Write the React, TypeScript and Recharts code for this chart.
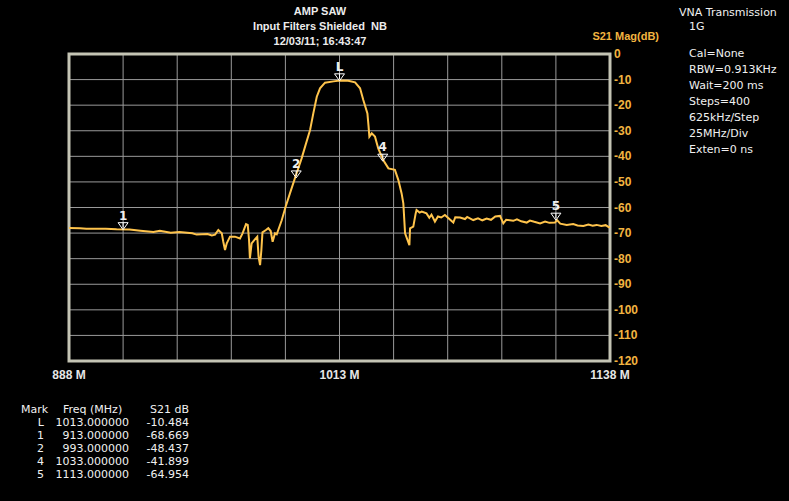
import React from 'react';
import { ComposedChart, Line, Scatter, XAxis, YAxis, CartesianGrid, ReferenceArea } from 'recharts';

// trace, MHz / dB
const freqMHz = [
  888, 893, 896, 905, 910, 916, 921, 927, 930, 935, 939, 945, 947, 952, 954, 955.5,
  957, 958.6, 959.3, 960.1, 960.9, 962.4, 964.7, 967, 968.2, 969.8, 970.6, 971.2, 971.6,
  972.4, 973.9, 975, 975.6, 976.3, 976.9, 977.4, 979, 980.1, 981.2, 982.1, 983.2, 984,
  984.7, 986.3, 988.1, 990.1, 992.9, 995.5, 997.1, 999.4, 1000.9, 1002.5, 1004, 1006.3,
  1010.2, 1013.2, 1017, 1020.2, 1022.5, 1024, 1025.9, 1026.4, 1026.8, 1027.9, 1029.4,
  1030.9, 1033.2, 1035.6, 1038.6, 1040.2, 1041.7, 1042.5, 1043.3, 1045.3, 1045.6, 1047.1,
  1048.2, 1048.6, 1050, 1051, 1053.2, 1054.5, 1055.5, 1057.1, 1058.5, 1060, 1061.7, 1063.5,
  1065.6, 1066.5, 1068.7, 1071, 1072, 1074.8, 1077, 1079, 1081, 1083, 1085, 1087.2, 1088.7,
  1090, 1093.3, 1095, 1097, 1099.5, 1101, 1103, 1105.7, 1108, 1110, 1112.6, 1113.5, 1115,
  1118, 1121, 1123, 1125.7, 1128, 1130, 1131.8, 1134, 1136, 1137.4, 1138,
];
const s21dB = [
  -68.0, -68.1, -68.3, -68.3, -68.5, -68.6, -69.1, -69.6, -69.1, -69.9, -69.6, -70.1, -70.6, -70.4, -70.9, -70.6,
  -68.8, -70.1, -73.4, -76.6, -74.0, -71.4, -71.4, -72.1, -70.1, -66.5, -66.8, -72.7, -79.9,
  -74.0, -72.5, -71.4, -79.2, -82.5, -76.6, -69.7, -68.8, -68.1, -69.2, -73.4, -70.1, -70.5,
  -68.8, -65.0, -59.7, -54.5, -47.3, -40.8, -36.2, -29.7, -23.2, -16.7, -13.4, -11.2,
  -10.7, -10.4, -10.5, -11.1, -13.4, -18.0, -23.2, -28.0, -32.3, -31.0, -32.3,
  -36.9, -41.4, -44.7, -45.3, -49.3, -54.5, -58.4, -70.1, -74.7, -68.2, -67.5,
  -62.3, -61.0, -62.0, -61.6, -62.3, -64.0, -62.8, -65.5, -63.5, -63.9, -62.9, -64.3,
  -65.9, -63.8, -63.9, -64.5, -63.7, -64.9, -64.2, -65.0, -64.3, -64.8, -63.5, -63.3, -66.2,
  -64.8, -65.2, -64.6, -65.4, -65.9, -65.1, -65.6, -66.2, -65.5, -66.0, -65.9, -64.9, -66.3,
  -66.8, -66.5, -67.0, -67.2, -66.7, -67.1, -66.8, -67.2, -66.9, -67.7, -67.6,
];

const markerNames = ['L', '1', '2', '4', '5'];
const markerFreq = [1013, 913, 993, 1033, 1113];
const markerDb = [-10.484, -68.669, -48.437, -41.899, -64.954];

const xTicks = [888, 913, 938, 963, 988, 1013, 1038, 1063, 1088, 1113, 1138];
const xLabelTicks = [888, 1013, 1138];
const yTicks = [0, -10, -20, -30, -40, -50, -60, -70, -80, -90, -100, -110, -120];

const titleLines = ['AMP SAW', 'Input Filters Shielded  NB', '12/03/11; 16:43:47'];
const infoLines = ['Cal=None', 'RBW=0.913KHz', 'Wait=200 ms', 'Steps=400', '625kHz/Step', '25MHz/Div', 'Exten=0 ns'];

const traceData = freqMHz.map((f, i) => ({ f, v: s21dB[i] }));
const markerData = markerFreq.map((f, i) => ({ f, v: markerDb[i], name: markerNames[i] }));

const ORANGE = '#f2b440';
const TRACE = '#ffc44c';
const ARIAL = '"Liberation Sans", Arial, sans-serif';
const DEJAVU = '"DejaVu Sans", Verdana, sans-serif';

const XTick = (props: any) => {
  const { x, y, payload } = props;
  if (!xLabelTicks.includes(payload.value)) return <g />;
  return (
    <text x={x} y={y + 18} textAnchor="middle" fill="#e6e6e6" fontSize={12} fontWeight="bold" fontFamily={ARIAL}>
      {payload.value} M
    </text>
  );
};

const YTick = (props: any) => {
  const { x, y, payload } = props;
  return (
    <text x={x + 4} y={y + 4} textAnchor="start" fill={ORANGE} fontSize={12} fontWeight="bold" fontFamily={ARIAL}>
      {payload.value}
    </text>
  );
};

const MarkerShape = (props: any) => {
  const { cx, cy, payload } = props;
  return (
    <g>
      <polygon points={`${cx - 5},${cy - 7} ${cx + 5},${cy - 7} ${cx},${cy}`} fill="none" stroke="#ffffff" strokeWidth={1} />
      <line x1={cx} y1={cy - 7} x2={cx} y2={cy - 2} stroke="#ffffff" strokeWidth={1} />
      <text x={cx} y={cy - 10} textAnchor="middle" fill="#f0f0f0" fontSize={12} fontWeight="bold" fontFamily={DEJAVU}>
        {payload.name}
      </text>
    </g>
  );
};

export default function App() {
  return (
    <div style={{ position: 'absolute', left: 0, top: 0, width: 789, height: 501, background: '#000' }}>
      <ComposedChart width={789} height={501} data={traceData} margin={{ top: 54, left: 69, right: 129, bottom: 110 }}>
        <CartesianGrid stroke="#9a9a9a" strokeWidth={1} />
        <XAxis
          dataKey="f"
          type="number"
          domain={[888, 1138]}
          ticks={xTicks}
          tick={<XTick />}
          tickLine={false}
          axisLine={false}
          tickSize={0}
          tickMargin={0}
          height={30}
          interval={0}
        />
        <YAxis
          orientation="right"
          type="number"
          domain={[-120, 0]}
          ticks={yTicks}
          tick={<YTick />}
          tickLine={false}
          axisLine={false}
          tickSize={0}
          tickMargin={0}
          width={50}
          interval={0}
        />
        <ReferenceArea x1={888} x2={1138} y1={-120} y2={0} fill="none" fillOpacity={0} stroke="#c4c4b4" strokeWidth={3} />
        <Line type="linear" dataKey="v" stroke={TRACE} strokeWidth={2} dot={false} isAnimationActive={false} />
        <Scatter data={markerData} dataKey="v" shape={<MarkerShape />} isAnimationActive={false} />
      </ComposedChart>
      <svg width={789} height={501} style={{ position: 'absolute', left: 0, top: 0, pointerEvents: 'none' }}>
        {titleLines.map((t, i) => (
          <text key={t} x={320} y={15 + i * 15} textAnchor="middle" fill="#ececec" fontSize={11} fontWeight="bold" fontFamily={ARIAL} style={{ whiteSpace: 'pre' }}>
            {t}
          </text>
        ))}
        <text x={659} y={40} textAnchor="end" fill={ORANGE} fontSize={11} fontWeight="bold" fontFamily={ARIAL}>
          S21 Mag(dB)
        </text>
        <text x={679} y={16} fill="#f0f0f0" fontSize={11} fontFamily={DEJAVU}>VNA Transmission</text>
        <text x={689} y={30} fill="#f0f0f0" fontSize={11} fontFamily={DEJAVU}>1G</text>
        {infoLines.map((t, i) => (
          <text key={t} x={689} y={57 + i * 16} fill="#f0f0f0" fontSize={11} fontFamily={DEJAVU}>
            {t}
          </text>
        ))}
        <text x={21} y={413} fill="#f0f0f0" fontSize={11} fontFamily={DEJAVU}>Mark</text>
        <text x={63} y={413} fill="#f0f0f0" fontSize={11} fontFamily={DEJAVU}>Freq (MHz)</text>
        <text x={150} y={413} fill="#f0f0f0" fontSize={11} fontFamily={DEJAVU}>S21 dB</text>
        {markerNames.map((m, i) => (
          <g key={m}>
            <text x={44} y={426 + i * 13} textAnchor="end" fill="#f0f0f0" fontSize={11} fontFamily={DEJAVU}>{m}</text>
            <text x={129} y={426 + i * 13} textAnchor="end" fill="#f0f0f0" fontSize={11} fontFamily={DEJAVU}>
              {markerFreq[i].toFixed(6)}
            </text>
            <text x={189} y={426 + i * 13} textAnchor="end" fill="#f0f0f0" fontSize={11} fontFamily={DEJAVU}>
              {markerDb[i].toFixed(3)}
            </text>
          </g>
        ))}
      </svg>
    </div>
  );
}
